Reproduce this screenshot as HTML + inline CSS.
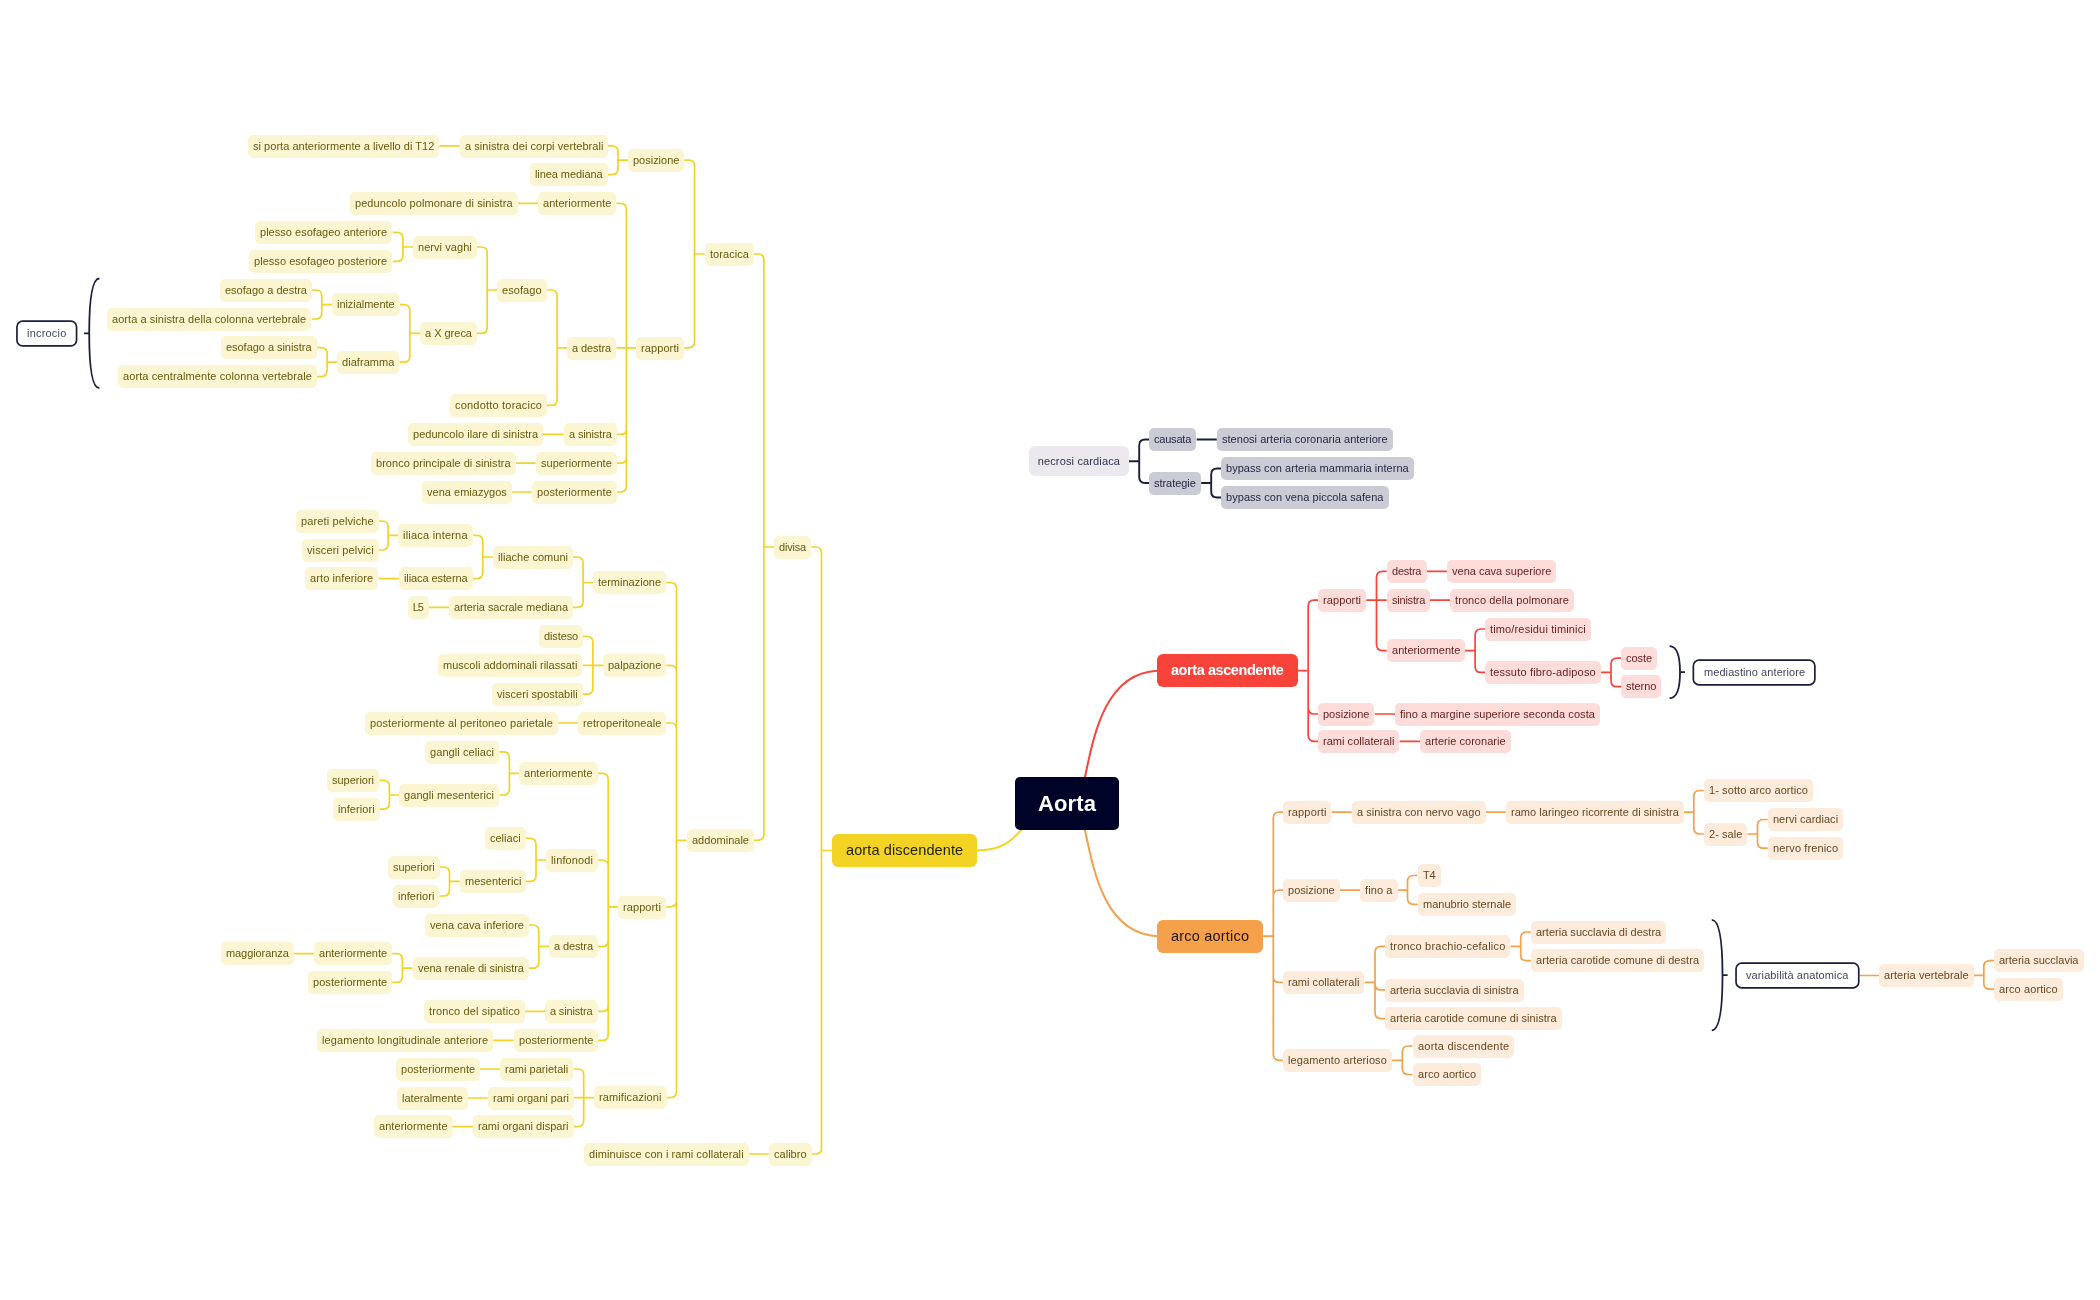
<!DOCTYPE html>
<html><head><meta charset="utf-8"><style>
html,body{margin:0;padding:0;background:#ffffff;}
body{width:2100px;height:1300px;position:relative;overflow:hidden;font-family:"Liberation Sans", sans-serif;}
svg{position:absolute;left:0;top:0;}
svg path{fill:none;stroke-width:1.7;stroke-linecap:butt;stroke-linejoin:round;}
.n{position:absolute;will-change:transform;display:flex;align-items:center;justify-content:center;white-space:nowrap;line-height:1;}
</style></head><body>
<svg width="2100" height="1300" viewBox="0 0 2100 1300">
<path d="M831.6,850.5H821.5V553.0Q821.5,547.0 815.5,547.0H811.3 M831.6,850.5H821.5V1148.0Q821.5,1154.0 815.5,1154.0H811.3 M768.7,1154.0H748.6 M774.2,547.0H763.9V260.0Q763.9,254.0 757.9,254.0H753.6 M774.2,547.0H763.9V834.3Q763.9,840.3 757.9,840.3H753.6 M704.6,254.0H694.5V166.2Q694.5,160.2 688.5,160.2H684.4 M704.6,254.0H694.5V341.8Q694.5,347.8 688.5,347.8H684.4 M628.0,160.2H618.0V151.8Q618.0,145.8 612.0,145.8H608.0 M628.0,160.2H618.0V168.6Q618.0,174.6 612.0,174.6H608.0 M459.6,145.8H439.4 M636.4,347.8H626.4V209.4Q626.4,203.4 620.4,203.4H616.4 M636.4,347.8H616.4 M636.4,347.8H626.4V428.4Q626.4,434.4 620.4,434.4H616.4 M636.4,347.8H626.4V457.2Q626.4,463.2 620.4,463.2H616.4 M636.4,347.8H626.4V486.0Q626.4,492.0 620.4,492.0H616.4 M538.0,203.4H517.6 M567.2,347.8H557.1V296.0Q557.1,290.0 551.1,290.0H547.0 M567.2,347.8H557.1V399.4Q557.1,405.4 551.1,405.4H547.0 M497.4,290.0H487.2V253.0Q487.2,247.0 481.2,247.0H477.0 M497.4,290.0H487.2V327.4Q487.2,333.4 481.2,333.4H477.0 M413.2,247.0H402.9V238.4Q402.9,232.4 396.9,232.4H392.6 M413.2,247.0H402.9V255.4Q402.9,261.4 396.9,261.4H392.6 M420.0,333.4H409.8V310.6Q409.8,304.6 403.8,304.6H399.6 M420.0,333.4H409.8V356.2Q409.8,362.2 403.8,362.2H399.6 M332.0,304.6H321.8V296.0Q321.8,290.0 315.8,290.0H311.6 M332.0,304.6H321.8V313.0Q321.8,319.0 315.8,319.0H311.6 M337.2,362.2H327.1V353.6Q327.1,347.6 321.1,347.6H317.0 M337.2,362.2H327.1V370.6Q327.1,376.6 321.1,376.6H317.0 M563.6,434.4H543.2 M535.6,463.2H515.2 M531.6,492.0H511.4 M686.6,840.3H676.5V588.6Q676.5,582.6 670.5,582.6H666.3 M686.6,840.3H676.5V671.4Q676.5,665.4 670.5,665.4H666.3 M686.6,840.3H676.5V729.0Q676.5,723.0 670.5,723.0H666.3 M686.6,840.3H676.5V900.8Q676.5,906.8 670.5,906.8H666.3 M686.6,840.3H676.5V1091.6Q676.5,1097.6 670.5,1097.6H666.3 M593.2,582.6H583.1V563.0Q583.1,557.0 577.1,557.0H573.0 M593.2,582.6H583.1V601.4Q583.1,607.4 577.1,607.4H573.0 M493.0,557.0H482.8V541.4Q482.8,535.4 476.8,535.4H472.6 M493.0,557.0H482.8V572.6Q482.8,578.6 476.8,578.6H472.6 M398.0,535.4H388.1V527.0Q388.1,521.0 382.1,521.0H378.3 M398.0,535.4H388.1V544.0Q388.1,550.0 382.1,550.0H378.3 M399.0,578.6H378.6 M449.0,607.4H428.6 M603.0,665.4H592.9V642.4Q592.9,636.4 586.9,636.4H582.8 M603.0,665.4H582.8 M603.0,665.4H592.9V688.2Q592.9,694.2 586.9,694.2H582.8 M578.0,723.0H557.6 M618.4,906.8H608.2V779.4Q608.2,773.4 602.2,773.4H598.0 M618.4,906.8H608.2V866.0Q608.2,860.0 602.2,860.0H598.0 M618.4,906.8H608.2V940.4Q608.2,946.4 602.2,946.4H598.0 M618.4,906.8H608.2V1005.4Q608.2,1011.4 602.2,1011.4H598.0 M618.4,906.8H608.2V1034.4Q608.2,1040.4 602.2,1040.4H598.0 M519.4,773.4H509.4V757.8Q509.4,751.8 503.4,751.8H499.4 M519.4,773.4H509.4V789.0Q509.4,795.0 503.4,795.0H499.4 M399.4,795.0H389.4V786.4Q389.4,780.4 383.4,780.4H379.4 M399.4,795.0H389.4V803.2Q389.4,809.2 383.4,809.2H379.4 M546.0,860.0H536.0V844.4Q536.0,838.4 530.0,838.4H526.0 M546.0,860.0H536.0V875.4Q536.0,881.4 530.0,881.4H526.0 M459.6,881.4H449.5V873.0Q449.5,867.0 443.5,867.0H439.4 M459.6,881.4H449.5V890.0Q449.5,896.0 443.5,896.0H439.4 M549.0,946.4H538.8V931.0Q538.8,925.0 532.8,925.0H528.6 M549.0,946.4H538.8V962.2Q538.8,968.2 532.8,968.2H528.6 M412.6,968.2H402.4V959.6Q402.4,953.6 396.4,953.6H392.2 M412.6,968.2H402.4V976.4Q402.4,982.4 396.4,982.4H392.2 M314.0,953.6H293.4 M545.4,1011.4H525.0 M513.6,1040.4H493.2 M593.8,1097.6H583.7V1075.0Q583.7,1069.0 577.7,1069.0H573.6 M593.8,1097.6H573.6 M593.8,1097.6H583.7V1120.6Q583.7,1126.6 577.7,1126.6H573.6 M500.4,1069.0H480.2 M487.6,1098.0H467.4 M473.1,1126.6H453.0" stroke="#f3d323" />
<path d="M1298.0,670.7H1308.2V606.2Q1308.2,600.2 1314.2,600.2H1318.3 M1298.0,670.7H1308.2V708.0Q1308.2,714.0 1314.2,714.0H1318.3 M1298.0,670.7H1308.2V735.3Q1308.2,741.3 1314.2,741.3H1318.3 M1366.3,600.2H1376.5V577.3Q1376.5,571.3 1382.5,571.3H1386.7 M1366.3,600.2H1386.7 M1366.3,600.2H1376.5V644.6Q1376.5,650.6 1382.5,650.6H1386.7 M1426.2,571.3H1446.8 M1430.0,600.2H1450.4 M1465.0,650.6H1475.1V635.0Q1475.1,629.0 1481.1,629.0H1485.2 M1465.0,650.6H1475.1V666.4Q1475.1,672.4 1481.1,672.4H1485.2 M1600.9,672.4H1611.0V664.1Q1611.0,658.1 1617.0,658.1H1621.0 M1600.9,672.4H1611.0V680.7Q1611.0,686.7 1617.0,686.7H1621.0 M1374.7,714.0H1395.0 M1399.7,741.3H1420.0" stroke="#f8433a" />
<path d="M1263.3,936.2H1273.3V818.2Q1273.3,812.2 1279.3,812.2H1283.3 M1263.3,936.2H1273.3V896.2Q1273.3,890.2 1279.3,890.2H1283.3 M1263.3,936.2H1273.3V976.4Q1273.3,982.4 1279.3,982.4H1283.3 M1263.3,936.2H1273.3V1054.3Q1273.3,1060.3 1279.3,1060.3H1283.3 M1331.7,812.2H1351.7 M1485.3,812.2H1505.8 M1683.7,812.2H1693.8V796.5Q1693.8,790.5 1699.8,790.5H1703.9 M1683.7,812.2H1693.8V828.0Q1693.8,834.0 1699.8,834.0H1703.9 M1747.3,834.0H1757.5V825.5Q1757.5,819.5 1763.5,819.5H1767.7 M1747.3,834.0H1757.5V842.2Q1757.5,848.2 1763.5,848.2H1767.7 M1340.0,890.2H1360.0 M1397.5,890.2H1407.5V881.5Q1407.5,875.5 1413.5,875.5H1417.5 M1397.5,890.2H1407.5V898.3Q1407.5,904.3 1413.5,904.3H1417.5 M1364.7,982.4H1375.0V952.3Q1375.0,946.3 1381.0,946.3H1385.3 M1364.7,982.4H1375.0V983.9Q1375.0,989.9 1381.0,989.9H1385.3 M1364.7,982.4H1375.0V1012.6Q1375.0,1018.6 1381.0,1018.6H1385.3 M1510.6,946.3H1520.7V938.0Q1520.7,932.0 1526.7,932.0H1530.8 M1510.6,946.3H1520.7V954.7Q1520.7,960.7 1526.7,960.7H1530.8 M1392.1,1060.3H1402.3V1052.0Q1402.3,1046.0 1408.3,1046.0H1412.5 M1392.1,1060.3H1402.3V1068.5Q1402.3,1074.5 1408.3,1074.5H1412.5 M1859.6,975.5H1879.0 M1973.7,975.4H1983.8V966.6Q1983.8,960.6 1989.8,960.6H1993.9 M1973.7,975.4H1983.8V983.2Q1983.8,989.2 1989.8,989.2H1993.9" stroke="#f5a04b" />
<path d="M1129.0,461.2H1139.2V445.5Q1139.2,439.5 1145.2,439.5H1149.4 M1129.0,461.2H1139.2V477.0Q1139.2,483.0 1145.2,483.0H1149.4 M1196.7,439.5H1216.8 M1201.2,483.0H1211.2V474.5Q1211.2,468.5 1217.2,468.5H1221.1 M1201.2,483.0H1211.2V491.5Q1211.2,497.5 1217.2,497.5H1221.1" stroke="#1b1d3d" style="stroke-width:1.9" />
<path d="M1067,803.5 C1094,828.9 1074.9,674.4 1157.2,670.7" stroke="#f8433a" style="stroke-width:2"/>
<path d="M1067,803.5 C1094,778.1 1074.9,932.6 1157.2,936.2" stroke="#f5a04b" style="stroke-width:2"/>
<path d="M1067,803.5 C1012.4,814.15 1028.1,849.5 976.8,850.5" stroke="#f3d323" style="stroke-width:1.9"/>
<path d="M99.4,278.5 Q89.2,278.5 89.2,333.4 Q89.2,388.1 99.4,388.1 M84,333.4 H89.2" stroke="#1b1e3e" style="stroke-width:1.8"/>
<path d="M1669.6,646.2 Q1680,646.2 1680,672.2 Q1680,698.2 1669.6,698.2 M1680,672.2 H1685" stroke="#1b1e3e" style="stroke-width:1.8"/>
<path d="M1711.8,919.9 Q1722.5,919.9 1722.5,975.2 Q1722.5,1030.3 1711.8,1030.3 M1722.5,975.2 H1727.6" stroke="#1b1e3e" style="stroke-width:1.8"/>
</svg>
<div class="n" style="left:831.6px;top:834.0px;width:145.2px;height:33.0px;background:#f3d323;color:#221e00;font-size:14.5px;font-weight:400;border-radius:6px;letter-spacing:0.120px;"><span style="margin-right:-0.120px">aorta discendente</span></div>
<div class="n" style="left:774.2px;top:535.7px;width:37.1px;height:22.6px;background:#fcf5d1;color:#68590f;font-size:11px;font-weight:400;border-radius:5px;letter-spacing:-0.205px;"><span style="margin-right:0.205px">divisa</span></div>
<div class="n" style="left:768.7px;top:1142.7px;width:42.6px;height:22.6px;background:#fcf5d1;color:#68590f;font-size:11px;font-weight:400;border-radius:5px;letter-spacing:0.032px;"><span style="margin-right:-0.032px">calibro</span></div>
<div class="n" style="left:584.0px;top:1142.7px;width:164.6px;height:22.6px;background:#fcf5d1;color:#68590f;font-size:11px;font-weight:400;border-radius:5px;letter-spacing:0.074px;"><span style="margin-right:-0.074px">diminuisce con i rami collaterali</span></div>
<div class="n" style="left:704.6px;top:242.7px;width:49.0px;height:22.6px;background:#fcf5d1;color:#68590f;font-size:11px;font-weight:400;border-radius:5px;letter-spacing:0.067px;"><span style="margin-right:-0.067px">toracica</span></div>
<div class="n" style="left:686.6px;top:829.0px;width:67.0px;height:22.6px;background:#fcf5d1;color:#68590f;font-size:11px;font-weight:400;border-radius:5px;letter-spacing:0.014px;"><span style="margin-right:-0.014px">addominale</span></div>
<div class="n" style="left:628.0px;top:148.9px;width:56.4px;height:22.6px;background:#fcf5d1;color:#68590f;font-size:11px;font-weight:400;border-radius:5px;letter-spacing:-0.011px;"><span style="margin-right:0.011px">posizione</span></div>
<div class="n" style="left:636.4px;top:336.5px;width:48.0px;height:22.6px;background:#fcf5d1;color:#68590f;font-size:11px;font-weight:400;border-radius:5px;letter-spacing:0.100px;"><span style="margin-right:-0.100px">rapporti</span></div>
<div class="n" style="left:459.6px;top:134.5px;width:148.4px;height:22.6px;background:#fcf5d1;color:#68590f;font-size:11px;font-weight:400;border-radius:5px;letter-spacing:0.048px;"><span style="margin-right:-0.048px">a sinistra dei corpi vertebrali</span></div>
<div class="n" style="left:530.4px;top:163.3px;width:77.6px;height:22.6px;background:#fcf5d1;color:#68590f;font-size:11px;font-weight:400;border-radius:5px;letter-spacing:-0.075px;"><span style="margin-right:0.075px">linea mediana</span></div>
<div class="n" style="left:248.0px;top:134.5px;width:191.4px;height:22.6px;background:#fcf5d1;color:#68590f;font-size:11px;font-weight:400;border-radius:5px;letter-spacing:0.032px;"><span style="margin-right:-0.032px">si porta anteriormente a livello di T12</span></div>
<div class="n" style="left:538.0px;top:192.1px;width:78.4px;height:22.6px;background:#fcf5d1;color:#68590f;font-size:11px;font-weight:400;border-radius:5px;letter-spacing:0.044px;"><span style="margin-right:-0.044px">anteriormente</span></div>
<div class="n" style="left:567.2px;top:336.5px;width:49.2px;height:22.6px;background:#fcf5d1;color:#68590f;font-size:11px;font-weight:400;border-radius:5px;letter-spacing:-0.079px;"><span style="margin-right:0.079px">a destra</span></div>
<div class="n" style="left:563.6px;top:423.1px;width:52.8px;height:22.6px;background:#fcf5d1;color:#68590f;font-size:11px;font-weight:400;border-radius:5px;letter-spacing:-0.137px;"><span style="margin-right:0.137px">a sinistra</span></div>
<div class="n" style="left:535.6px;top:451.9px;width:80.8px;height:22.6px;background:#fcf5d1;color:#68590f;font-size:11px;font-weight:400;border-radius:5px;letter-spacing:0.039px;"><span style="margin-right:-0.039px">superiormente</span></div>
<div class="n" style="left:531.6px;top:480.7px;width:84.8px;height:22.6px;background:#fcf5d1;color:#68590f;font-size:11px;font-weight:400;border-radius:5px;letter-spacing:0.110px;"><span style="margin-right:-0.110px">posteriormente</span></div>
<div class="n" style="left:350.0px;top:192.1px;width:167.6px;height:22.6px;background:#fcf5d1;color:#68590f;font-size:11px;font-weight:400;border-radius:5px;letter-spacing:0.076px;"><span style="margin-right:-0.076px">peduncolo polmonare di sinistra</span></div>
<div class="n" style="left:497.4px;top:278.7px;width:49.6px;height:22.6px;background:#fcf5d1;color:#68590f;font-size:11px;font-weight:400;border-radius:5px;letter-spacing:0.074px;"><span style="margin-right:-0.074px">esofago</span></div>
<div class="n" style="left:450.0px;top:394.1px;width:97.0px;height:22.6px;background:#fcf5d1;color:#68590f;font-size:11px;font-weight:400;border-radius:5px;letter-spacing:0.201px;"><span style="margin-right:-0.201px">condotto toracico</span></div>
<div class="n" style="left:413.2px;top:235.7px;width:63.8px;height:22.6px;background:#fcf5d1;color:#68590f;font-size:11px;font-weight:400;border-radius:5px;letter-spacing:0.060px;"><span style="margin-right:-0.060px">nervi vaghi</span></div>
<div class="n" style="left:420.0px;top:322.1px;width:57.0px;height:22.6px;background:#fcf5d1;color:#68590f;font-size:11px;font-weight:400;border-radius:5px;letter-spacing:-0.012px;"><span style="margin-right:0.012px">a X greca</span></div>
<div class="n" style="left:255.4px;top:221.1px;width:137.2px;height:22.6px;background:#fcf5d1;color:#68590f;font-size:11px;font-weight:400;border-radius:5px;letter-spacing:0.025px;"><span style="margin-right:-0.025px">plesso esofageo anteriore</span></div>
<div class="n" style="left:249.4px;top:250.1px;width:143.2px;height:22.6px;background:#fcf5d1;color:#68590f;font-size:11px;font-weight:400;border-radius:5px;letter-spacing:0.044px;"><span style="margin-right:-0.044px">plesso esofageo posteriore</span></div>
<div class="n" style="left:332.0px;top:293.3px;width:67.6px;height:22.6px;background:#fcf5d1;color:#68590f;font-size:11px;font-weight:400;border-radius:5px;letter-spacing:-0.045px;"><span style="margin-right:0.045px">inizialmente</span></div>
<div class="n" style="left:337.2px;top:350.9px;width:62.4px;height:22.6px;background:#fcf5d1;color:#68590f;font-size:11px;font-weight:400;border-radius:5px;letter-spacing:0.054px;"><span style="margin-right:-0.054px">diaframma</span></div>
<div class="n" style="left:219.6px;top:278.7px;width:92.0px;height:22.6px;background:#fcf5d1;color:#68590f;font-size:11px;font-weight:400;border-radius:5px;letter-spacing:0.003px;"><span style="margin-right:-0.003px">esofago a destra</span></div>
<div class="n" style="left:107.4px;top:307.7px;width:204.2px;height:22.6px;background:#fcf5d1;color:#68590f;font-size:11px;font-weight:400;border-radius:5px;letter-spacing:0.055px;"><span style="margin-right:-0.055px">aorta a sinistra della colonna vertebrale</span></div>
<div class="n" style="left:221.4px;top:336.3px;width:95.6px;height:22.6px;background:#fcf5d1;color:#68590f;font-size:11px;font-weight:400;border-radius:5px;letter-spacing:-0.036px;"><span style="margin-right:0.036px">esofago a sinistra</span></div>
<div class="n" style="left:118.0px;top:365.3px;width:199.0px;height:22.6px;background:#fcf5d1;color:#68590f;font-size:11px;font-weight:400;border-radius:5px;letter-spacing:0.103px;"><span style="margin-right:-0.103px">aorta centralmente colonna vertebrale</span></div>
<div class="n" style="left:408.0px;top:423.1px;width:135.2px;height:22.6px;background:#fcf5d1;color:#68590f;font-size:11px;font-weight:400;border-radius:5px;letter-spacing:0.041px;"><span style="margin-right:-0.041px">peduncolo ilare di sinistra</span></div>
<div class="n" style="left:370.6px;top:451.9px;width:144.6px;height:22.6px;background:#fcf5d1;color:#68590f;font-size:11px;font-weight:400;border-radius:5px;letter-spacing:0.047px;"><span style="margin-right:-0.047px">bronco principale di sinistra</span></div>
<div class="n" style="left:421.6px;top:480.7px;width:89.8px;height:22.6px;background:#fcf5d1;color:#68590f;font-size:11px;font-weight:400;border-radius:5px;letter-spacing:0.023px;"><span style="margin-right:-0.023px">vena emiazygos</span></div>
<div class="n" style="left:593.2px;top:571.3px;width:73.1px;height:22.6px;background:#fcf5d1;color:#68590f;font-size:11px;font-weight:400;border-radius:5px;letter-spacing:0.011px;"><span style="margin-right:-0.011px">terminazione</span></div>
<div class="n" style="left:603.0px;top:654.1px;width:63.3px;height:22.6px;background:#fcf5d1;color:#68590f;font-size:11px;font-weight:400;border-radius:5px;letter-spacing:0.009px;"><span style="margin-right:-0.009px">palpazione</span></div>
<div class="n" style="left:578.0px;top:711.7px;width:88.3px;height:22.6px;background:#fcf5d1;color:#68590f;font-size:11px;font-weight:400;border-radius:5px;letter-spacing:0.082px;"><span style="margin-right:-0.082px">retroperitoneale</span></div>
<div class="n" style="left:618.4px;top:895.5px;width:47.9px;height:22.6px;background:#fcf5d1;color:#68590f;font-size:11px;font-weight:400;border-radius:5px;letter-spacing:0.086px;"><span style="margin-right:-0.086px">rapporti</span></div>
<div class="n" style="left:593.8px;top:1086.3px;width:72.5px;height:22.6px;background:#fcf5d1;color:#68590f;font-size:11px;font-weight:400;border-radius:5px;letter-spacing:0.113px;"><span style="margin-right:-0.113px">ramificazioni</span></div>
<div class="n" style="left:493.0px;top:545.7px;width:80.0px;height:22.6px;background:#fcf5d1;color:#68590f;font-size:11px;font-weight:400;border-radius:5px;letter-spacing:0.023px;"><span style="margin-right:-0.023px">iliache comuni</span></div>
<div class="n" style="left:449.0px;top:596.1px;width:124.0px;height:22.6px;background:#fcf5d1;color:#68590f;font-size:11px;font-weight:400;border-radius:5px;letter-spacing:-0.043px;"><span style="margin-right:0.043px">arteria sacrale mediana</span></div>
<div class="n" style="left:398.0px;top:524.1px;width:74.6px;height:22.6px;background:#fcf5d1;color:#68590f;font-size:11px;font-weight:400;border-radius:5px;letter-spacing:0.218px;"><span style="margin-right:-0.218px">iliaca interna</span></div>
<div class="n" style="left:399.0px;top:567.3px;width:73.6px;height:22.6px;background:#fcf5d1;color:#68590f;font-size:11px;font-weight:400;border-radius:5px;letter-spacing:-0.094px;"><span style="margin-right:0.094px">iliaca esterna</span></div>
<div class="n" style="left:295.6px;top:509.7px;width:82.7px;height:22.6px;background:#fcf5d1;color:#68590f;font-size:11px;font-weight:400;border-radius:5px;letter-spacing:0.126px;"><span style="margin-right:-0.126px">pareti pelviche</span></div>
<div class="n" style="left:301.6px;top:538.7px;width:76.7px;height:22.6px;background:#fcf5d1;color:#68590f;font-size:11px;font-weight:400;border-radius:5px;letter-spacing:0.136px;"><span style="margin-right:-0.136px">visceri pelvici</span></div>
<div class="n" style="left:305.4px;top:567.3px;width:73.2px;height:22.6px;background:#fcf5d1;color:#68590f;font-size:11px;font-weight:400;border-radius:5px;letter-spacing:0.110px;"><span style="margin-right:-0.110px">arto inferiore</span></div>
<div class="n" style="left:408.0px;top:596.1px;width:20.6px;height:22.6px;background:#fcf5d1;color:#68590f;font-size:11px;font-weight:400;border-radius:5px;letter-spacing:-1.200px;"><span style="margin-right:1.200px">L5</span></div>
<div class="n" style="left:538.6px;top:625.1px;width:44.2px;height:22.6px;background:#fcf5d1;color:#68590f;font-size:11px;font-weight:400;border-radius:5px;letter-spacing:-0.110px;"><span style="margin-right:0.110px">disteso</span></div>
<div class="n" style="left:438.4px;top:654.1px;width:144.4px;height:22.6px;background:#fcf5d1;color:#68590f;font-size:11px;font-weight:400;border-radius:5px;letter-spacing:0.019px;"><span style="margin-right:-0.019px">muscoli addominali rilassati</span></div>
<div class="n" style="left:492.2px;top:682.9px;width:90.6px;height:22.6px;background:#fcf5d1;color:#68590f;font-size:11px;font-weight:400;border-radius:5px;letter-spacing:0.030px;"><span style="margin-right:-0.030px">visceri spostabili</span></div>
<div class="n" style="left:364.6px;top:711.7px;width:193.0px;height:22.6px;background:#fcf5d1;color:#68590f;font-size:11px;font-weight:400;border-radius:5px;letter-spacing:0.106px;"><span style="margin-right:-0.106px">posteriormente al peritoneo parietale</span></div>
<div class="n" style="left:519.4px;top:762.1px;width:78.6px;height:22.6px;background:#fcf5d1;color:#68590f;font-size:11px;font-weight:400;border-radius:5px;letter-spacing:0.060px;"><span style="margin-right:-0.060px">anteriormente</span></div>
<div class="n" style="left:546.0px;top:848.7px;width:52.0px;height:22.6px;background:#fcf5d1;color:#68590f;font-size:11px;font-weight:400;border-radius:5px;letter-spacing:0.127px;"><span style="margin-right:-0.127px">linfonodi</span></div>
<div class="n" style="left:549.0px;top:935.1px;width:49.0px;height:22.6px;background:#fcf5d1;color:#68590f;font-size:11px;font-weight:400;border-radius:5px;letter-spacing:-0.107px;"><span style="margin-right:0.107px">a destra</span></div>
<div class="n" style="left:545.4px;top:1000.1px;width:52.6px;height:22.6px;background:#fcf5d1;color:#68590f;font-size:11px;font-weight:400;border-radius:5px;letter-spacing:-0.159px;"><span style="margin-right:0.159px">a sinistra</span></div>
<div class="n" style="left:513.6px;top:1029.1px;width:84.4px;height:22.6px;background:#fcf5d1;color:#68590f;font-size:11px;font-weight:400;border-radius:5px;letter-spacing:0.079px;"><span style="margin-right:-0.079px">posteriormente</span></div>
<div class="n" style="left:425.4px;top:740.5px;width:74.0px;height:22.6px;background:#fcf5d1;color:#68590f;font-size:11px;font-weight:400;border-radius:5px;letter-spacing:0.078px;"><span style="margin-right:-0.078px">gangli celiaci</span></div>
<div class="n" style="left:399.4px;top:783.7px;width:100.0px;height:22.6px;background:#fcf5d1;color:#68590f;font-size:11px;font-weight:400;border-radius:5px;letter-spacing:0.079px;"><span style="margin-right:-0.079px">gangli mesenterici</span></div>
<div class="n" style="left:327.4px;top:769.1px;width:52.0px;height:22.6px;background:#fcf5d1;color:#68590f;font-size:11px;font-weight:400;border-radius:5px;letter-spacing:-0.023px;"><span style="margin-right:0.023px">superiori</span></div>
<div class="n" style="left:332.8px;top:797.9px;width:46.6px;height:22.6px;background:#fcf5d1;color:#68590f;font-size:11px;font-weight:400;border-radius:5px;letter-spacing:0.065px;"><span style="margin-right:-0.065px">inferiori</span></div>
<div class="n" style="left:485.4px;top:827.1px;width:40.6px;height:22.6px;background:#fcf5d1;color:#68590f;font-size:11px;font-weight:400;border-radius:5px;letter-spacing:0.004px;"><span style="margin-right:-0.004px">celiaci</span></div>
<div class="n" style="left:459.6px;top:870.1px;width:66.4px;height:22.6px;background:#fcf5d1;color:#68590f;font-size:11px;font-weight:400;border-radius:5px;letter-spacing:0.015px;"><span style="margin-right:-0.015px">mesenterici</span></div>
<div class="n" style="left:387.6px;top:855.7px;width:51.8px;height:22.6px;background:#fcf5d1;color:#68590f;font-size:11px;font-weight:400;border-radius:5px;letter-spacing:-0.048px;"><span style="margin-right:0.048px">superiori</span></div>
<div class="n" style="left:393.0px;top:884.7px;width:46.4px;height:22.6px;background:#fcf5d1;color:#68590f;font-size:11px;font-weight:400;border-radius:5px;letter-spacing:0.040px;"><span style="margin-right:-0.040px">inferiori</span></div>
<div class="n" style="left:424.6px;top:913.7px;width:104.0px;height:22.6px;background:#fcf5d1;color:#68590f;font-size:11px;font-weight:400;border-radius:5px;letter-spacing:0.058px;"><span style="margin-right:-0.058px">vena cava inferiore</span></div>
<div class="n" style="left:412.6px;top:956.9px;width:116.0px;height:22.6px;background:#fcf5d1;color:#68590f;font-size:11px;font-weight:400;border-radius:5px;letter-spacing:-0.046px;"><span style="margin-right:0.046px">vena renale di sinistra</span></div>
<div class="n" style="left:314.0px;top:942.3px;width:78.2px;height:22.6px;background:#fcf5d1;color:#68590f;font-size:11px;font-weight:400;border-radius:5px;letter-spacing:0.027px;"><span style="margin-right:-0.027px">anteriormente</span></div>
<div class="n" style="left:308.0px;top:971.1px;width:84.2px;height:22.6px;background:#fcf5d1;color:#68590f;font-size:11px;font-weight:400;border-radius:5px;letter-spacing:0.063px;"><span style="margin-right:-0.063px">posteriormente</span></div>
<div class="n" style="left:220.6px;top:942.3px;width:72.8px;height:22.6px;background:#fcf5d1;color:#68590f;font-size:11px;font-weight:400;border-radius:5px;letter-spacing:-0.079px;"><span style="margin-right:0.079px">maggioranza</span></div>
<div class="n" style="left:424.0px;top:1000.1px;width:101.0px;height:22.6px;background:#fcf5d1;color:#68590f;font-size:11px;font-weight:400;border-radius:5px;letter-spacing:0.129px;"><span style="margin-right:-0.129px">tronco del sipatico</span></div>
<div class="n" style="left:317.0px;top:1029.1px;width:176.2px;height:22.6px;background:#fcf5d1;color:#68590f;font-size:11px;font-weight:400;border-radius:5px;letter-spacing:0.110px;"><span style="margin-right:-0.110px">legamento longitudinale anteriore</span></div>
<div class="n" style="left:500.4px;top:1057.7px;width:73.2px;height:22.6px;background:#fcf5d1;color:#68590f;font-size:11px;font-weight:400;border-radius:5px;letter-spacing:0.018px;"><span style="margin-right:-0.018px">rami parietali</span></div>
<div class="n" style="left:487.6px;top:1086.7px;width:86.0px;height:22.6px;background:#fcf5d1;color:#68590f;font-size:11px;font-weight:400;border-radius:5px;letter-spacing:-0.028px;"><span style="margin-right:0.028px">rami organi pari</span></div>
<div class="n" style="left:473.1px;top:1115.3px;width:100.5px;height:22.6px;background:#fcf5d1;color:#68590f;font-size:11px;font-weight:400;border-radius:5px;letter-spacing:0.001px;"><span style="margin-right:-0.001px">rami organi dispari</span></div>
<div class="n" style="left:396.0px;top:1057.7px;width:84.2px;height:22.6px;background:#fcf5d1;color:#68590f;font-size:11px;font-weight:400;border-radius:5px;letter-spacing:0.063px;"><span style="margin-right:-0.063px">posteriormente</span></div>
<div class="n" style="left:396.6px;top:1086.7px;width:70.8px;height:22.6px;background:#fcf5d1;color:#68590f;font-size:11px;font-weight:400;border-radius:5px;letter-spacing:0.023px;"><span style="margin-right:-0.023px">lateralmente</span></div>
<div class="n" style="left:374.4px;top:1115.3px;width:78.6px;height:22.6px;background:#fcf5d1;color:#68590f;font-size:11px;font-weight:400;border-radius:5px;letter-spacing:0.060px;"><span style="margin-right:-0.060px">anteriormente</span></div>
<div class="n" style="left:1157.1px;top:654.2px;width:140.9px;height:33.0px;background:#f8433a;color:#ffffff;font-size:14.5px;font-weight:700;border-radius:6px;letter-spacing:-0.425px;"><span style="margin-right:0.425px">aorta ascendente</span></div>
<div class="n" style="left:1318.3px;top:588.9px;width:48.0px;height:22.6px;background:#fddcda;color:#661e1a;font-size:11px;font-weight:400;border-radius:5px;letter-spacing:0.100px;"><span style="margin-right:-0.100px">rapporti</span></div>
<div class="n" style="left:1318.3px;top:702.7px;width:56.4px;height:22.6px;background:#fddcda;color:#661e1a;font-size:11px;font-weight:400;border-radius:5px;letter-spacing:-0.011px;"><span style="margin-right:0.011px">posizione</span></div>
<div class="n" style="left:1318.3px;top:730.0px;width:81.4px;height:22.6px;background:#fddcda;color:#661e1a;font-size:11px;font-weight:400;border-radius:5px;letter-spacing:0.032px;"><span style="margin-right:-0.032px">rami collaterali</span></div>
<div class="n" style="left:1386.7px;top:560.0px;width:39.5px;height:22.6px;background:#fddcda;color:#661e1a;font-size:11px;font-weight:400;border-radius:5px;letter-spacing:-0.216px;"><span style="margin-right:0.216px">destra</span></div>
<div class="n" style="left:1386.7px;top:588.9px;width:43.3px;height:22.6px;background:#fddcda;color:#661e1a;font-size:11px;font-weight:400;border-radius:5px;letter-spacing:-0.221px;"><span style="margin-right:0.221px">sinistra</span></div>
<div class="n" style="left:1386.7px;top:639.3px;width:78.3px;height:22.6px;background:#fddcda;color:#661e1a;font-size:11px;font-weight:400;border-radius:5px;letter-spacing:0.035px;"><span style="margin-right:-0.035px">anteriormente</span></div>
<div class="n" style="left:1446.8px;top:560.0px;width:109.3px;height:22.6px;background:#fddcda;color:#661e1a;font-size:11px;font-weight:400;border-radius:5px;letter-spacing:0.013px;"><span style="margin-right:-0.013px">vena cava superiore</span></div>
<div class="n" style="left:1450.4px;top:588.9px;width:124.0px;height:22.6px;background:#fddcda;color:#661e1a;font-size:11px;font-weight:400;border-radius:5px;letter-spacing:0.100px;"><span style="margin-right:-0.100px">tronco della polmonare</span></div>
<div class="n" style="left:1485.2px;top:617.7px;width:105.8px;height:22.6px;background:#fddcda;color:#661e1a;font-size:11px;font-weight:400;border-radius:5px;letter-spacing:0.144px;"><span style="margin-right:-0.144px">timo/residui timinici</span></div>
<div class="n" style="left:1485.2px;top:661.1px;width:115.7px;height:22.6px;background:#fddcda;color:#661e1a;font-size:11px;font-weight:400;border-radius:5px;letter-spacing:0.179px;"><span style="margin-right:-0.179px">tessuto fibro-adiposo</span></div>
<div class="n" style="left:1621.0px;top:646.8px;width:36.0px;height:22.6px;background:#fddcda;color:#661e1a;font-size:11px;font-weight:400;border-radius:5px;letter-spacing:-0.074px;"><span style="margin-right:0.074px">coste</span></div>
<div class="n" style="left:1621.0px;top:675.4px;width:40.4px;height:22.6px;background:#fddcda;color:#661e1a;font-size:11px;font-weight:400;border-radius:5px;letter-spacing:-0.036px;"><span style="margin-right:0.036px">sterno</span></div>
<div class="n" style="left:1395.0px;top:702.7px;width:204.9px;height:22.6px;background:#fddcda;color:#661e1a;font-size:11px;font-weight:400;border-radius:5px;letter-spacing:0.061px;"><span style="margin-right:-0.061px">fino a margine superiore seconda costa</span></div>
<div class="n" style="left:1420.0px;top:730.0px;width:90.6px;height:22.6px;background:#fddcda;color:#661e1a;font-size:11px;font-weight:400;border-radius:5px;letter-spacing:0.032px;"><span style="margin-right:-0.032px">arterie coronarie</span></div>
<div class="n" style="left:1157.2px;top:919.7px;width:106.1px;height:33.0px;background:#f5a04b;color:#1e150a;font-size:14.5px;font-weight:400;border-radius:6px;letter-spacing:0.212px;"><span style="margin-right:-0.212px">arco aortico</span></div>
<div class="n" style="left:1283.3px;top:800.9px;width:48.4px;height:22.6px;background:#fdebdc;color:#694621;font-size:11px;font-weight:400;border-radius:5px;letter-spacing:0.158px;"><span style="margin-right:-0.158px">rapporti</span></div>
<div class="n" style="left:1283.3px;top:878.9px;width:56.7px;height:22.6px;background:#fdebdc;color:#694621;font-size:11px;font-weight:400;border-radius:5px;letter-spacing:0.027px;"><span style="margin-right:-0.027px">posizione</span></div>
<div class="n" style="left:1283.3px;top:971.1px;width:81.4px;height:22.6px;background:#fdebdc;color:#694621;font-size:11px;font-weight:400;border-radius:5px;letter-spacing:0.032px;"><span style="margin-right:-0.032px">rami collaterali</span></div>
<div class="n" style="left:1283.3px;top:1049.0px;width:108.8px;height:22.6px;background:#fdebdc;color:#694621;font-size:11px;font-weight:400;border-radius:5px;letter-spacing:0.087px;"><span style="margin-right:-0.087px">legamento arterioso</span></div>
<div class="n" style="left:1351.7px;top:800.9px;width:133.6px;height:22.6px;background:#fdebdc;color:#694621;font-size:11px;font-weight:400;border-radius:5px;letter-spacing:0.054px;"><span style="margin-right:-0.054px">a sinistra con nervo vago</span></div>
<div class="n" style="left:1505.8px;top:800.9px;width:177.9px;height:22.6px;background:#fdebdc;color:#694621;font-size:11px;font-weight:400;border-radius:5px;letter-spacing:0.046px;"><span style="margin-right:-0.046px">ramo laringeo ricorrente di sinistra</span></div>
<div class="n" style="left:1703.9px;top:779.2px;width:109.0px;height:22.6px;background:#fdebdc;color:#694621;font-size:11px;font-weight:400;border-radius:5px;letter-spacing:0.089px;"><span style="margin-right:-0.089px">1- sotto arco aortico</span></div>
<div class="n" style="left:1703.9px;top:822.7px;width:43.4px;height:22.6px;background:#fdebdc;color:#694621;font-size:11px;font-weight:400;border-radius:5px;letter-spacing:0.061px;"><span style="margin-right:-0.061px">2- sale</span></div>
<div class="n" style="left:1767.7px;top:808.2px;width:75.1px;height:22.6px;background:#fdebdc;color:#694621;font-size:11px;font-weight:400;border-radius:5px;letter-spacing:0.022px;"><span style="margin-right:-0.022px">nervi cardiaci</span></div>
<div class="n" style="left:1767.7px;top:836.9px;width:75.1px;height:22.6px;background:#fdebdc;color:#694621;font-size:11px;font-weight:400;border-radius:5px;letter-spacing:0.126px;"><span style="margin-right:-0.126px">nervo frenico</span></div>
<div class="n" style="left:1360.0px;top:878.9px;width:37.5px;height:22.6px;background:#fdebdc;color:#694621;font-size:11px;font-weight:400;border-radius:5px;letter-spacing:0.116px;"><span style="margin-right:-0.116px">fino a</span></div>
<div class="n" style="left:1417.5px;top:864.2px;width:22.5px;height:22.6px;background:#fdebdc;color:#694621;font-size:11px;font-weight:400;border-radius:5px;letter-spacing:-0.344px;"><span style="margin-right:0.344px">T4</span></div>
<div class="n" style="left:1417.5px;top:893.0px;width:98.2px;height:22.6px;background:#fdebdc;color:#694621;font-size:11px;font-weight:400;border-radius:5px;letter-spacing:0.009px;"><span style="margin-right:-0.009px">manubrio sternale</span></div>
<div class="n" style="left:1385.3px;top:935.0px;width:125.3px;height:22.6px;background:#fdebdc;color:#694621;font-size:11px;font-weight:400;border-radius:5px;letter-spacing:0.210px;"><span style="margin-right:-0.210px">tronco brachio-cefalico</span></div>
<div class="n" style="left:1385.3px;top:978.6px;width:138.6px;height:22.6px;background:#fdebdc;color:#694621;font-size:11px;font-weight:400;border-radius:5px;letter-spacing:-0.014px;"><span style="margin-right:0.014px">arteria succlavia di sinistra</span></div>
<div class="n" style="left:1385.3px;top:1007.3px;width:176.7px;height:22.6px;background:#fdebdc;color:#694621;font-size:11px;font-weight:400;border-radius:5px;letter-spacing:0.048px;"><span style="margin-right:-0.048px">arteria carotide comune di sinistra</span></div>
<div class="n" style="left:1530.8px;top:920.7px;width:135.2px;height:22.6px;background:#fdebdc;color:#694621;font-size:11px;font-weight:400;border-radius:5px;letter-spacing:0.018px;"><span style="margin-right:-0.018px">arteria succlavia di destra</span></div>
<div class="n" style="left:1530.8px;top:949.4px;width:173.1px;height:22.6px;background:#fdebdc;color:#694621;font-size:11px;font-weight:400;border-radius:5px;letter-spacing:0.071px;"><span style="margin-right:-0.071px">arteria carotide comune di destra</span></div>
<div class="n" style="left:1412.5px;top:1034.7px;width:101.1px;height:22.6px;background:#fdebdc;color:#694621;font-size:11px;font-weight:400;border-radius:5px;letter-spacing:0.228px;"><span style="margin-right:-0.228px">aorta discendente</span></div>
<div class="n" style="left:1412.5px;top:1063.2px;width:68.1px;height:22.6px;background:#fdebdc;color:#694621;font-size:11px;font-weight:400;border-radius:5px;letter-spacing:0.056px;"><span style="margin-right:-0.056px">arco aortico</span></div>
<div class="n" style="left:16.1px;top:320.4px;width:61.3px;height:26.4px;background:#ffffff;color:#42455f;font-size:11px;font-weight:400;border-radius:6.5px;letter-spacing:0.199px;"><span style="margin-right:-0.199px">incrocio</span></div>
<div class="n" style="left:1692.5px;top:659.3px;width:123.2px;height:26.4px;background:#ffffff;color:#42455f;font-size:11px;font-weight:400;border-radius:6.5px;letter-spacing:0.080px;"><span style="margin-right:-0.080px">mediastino anteriore</span></div>
<div class="n" style="left:1735.2px;top:962.3px;width:124.4px;height:26.4px;background:#ffffff;color:#42455f;font-size:11px;font-weight:400;border-radius:6.5px;letter-spacing:0.106px;"><span style="margin-right:-0.106px">variabilità anatomica</span></div>
<div class="n" style="left:1879.0px;top:964.1px;width:94.7px;height:22.6px;background:#fdebdc;color:#694621;font-size:11px;font-weight:400;border-radius:5px;letter-spacing:0.091px;"><span style="margin-right:-0.091px">arteria vertebrale</span></div>
<div class="n" style="left:1993.9px;top:949.3px;width:89.5px;height:22.6px;background:#fdebdc;color:#694621;font-size:11px;font-weight:400;border-radius:5px;letter-spacing:0.001px;"><span style="margin-right:-0.001px">arteria succlavia</span></div>
<div class="n" style="left:1993.9px;top:977.9px;width:68.6px;height:22.6px;background:#fdebdc;color:#694621;font-size:11px;font-weight:400;border-radius:5px;letter-spacing:0.101px;"><span style="margin-right:-0.101px">arco aortico</span></div>
<div class="n" style="left:1029.3px;top:446.2px;width:99.7px;height:30.0px;background:#ebe9ed;color:#2f3250;font-size:11px;font-weight:400;border-radius:6px;letter-spacing:0.147px;"><span style="margin-right:-0.147px">necrosi cardiaca</span></div>
<div class="n" style="left:1149.4px;top:428.2px;width:47.3px;height:22.6px;background:#cbcbd5;color:#262944;font-size:11px;font-weight:400;border-radius:5px;letter-spacing:-0.205px;"><span style="margin-right:0.205px">causata</span></div>
<div class="n" style="left:1149.4px;top:471.7px;width:51.8px;height:22.6px;background:#cbcbd5;color:#262944;font-size:11px;font-weight:400;border-radius:5px;letter-spacing:-0.050px;"><span style="margin-right:0.050px">strategie</span></div>
<div class="n" style="left:1216.8px;top:428.2px;width:175.7px;height:22.6px;background:#cbcbd5;color:#262944;font-size:11px;font-weight:400;border-radius:5px;letter-spacing:0.036px;"><span style="margin-right:-0.036px">stenosi arteria coronaria anteriore</span></div>
<div class="n" style="left:1221.1px;top:457.2px;width:192.7px;height:22.6px;background:#cbcbd5;color:#262944;font-size:11px;font-weight:400;border-radius:5px;letter-spacing:0.033px;"><span style="margin-right:-0.033px">bypass con arteria mammaria interna</span></div>
<div class="n" style="left:1221.1px;top:486.2px;width:167.5px;height:22.6px;background:#cbcbd5;color:#262944;font-size:11px;font-weight:400;border-radius:5px;letter-spacing:0.054px;"><span style="margin-right:-0.054px">bypass con vena piccola safena</span></div>
<div class="n" style="left:1015.0px;top:777.0px;width:104.0px;height:53.0px;background:#000328;color:#ffffff;font-size:22px;font-weight:700;border-radius:5px;letter-spacing:0.137px;"><span style="margin-right:-0.137px">Aorta</span></div>
<svg width="2100" height="1300" viewBox="0 0 2100 1300">
<rect x="16.95" y="321.20" width="59.60" height="24.70" rx="5.7" ry="5.7" fill="none" stroke="#1b1e3e" stroke-width="1.7"/>
<rect x="1693.35" y="660.15" width="121.50" height="24.70" rx="5.7" ry="5.7" fill="none" stroke="#1b1e3e" stroke-width="1.7"/>
<rect x="1736.05" y="963.15" width="122.70" height="24.70" rx="5.7" ry="5.7" fill="none" stroke="#1b1e3e" stroke-width="1.7"/>
</svg>
</body></html>
